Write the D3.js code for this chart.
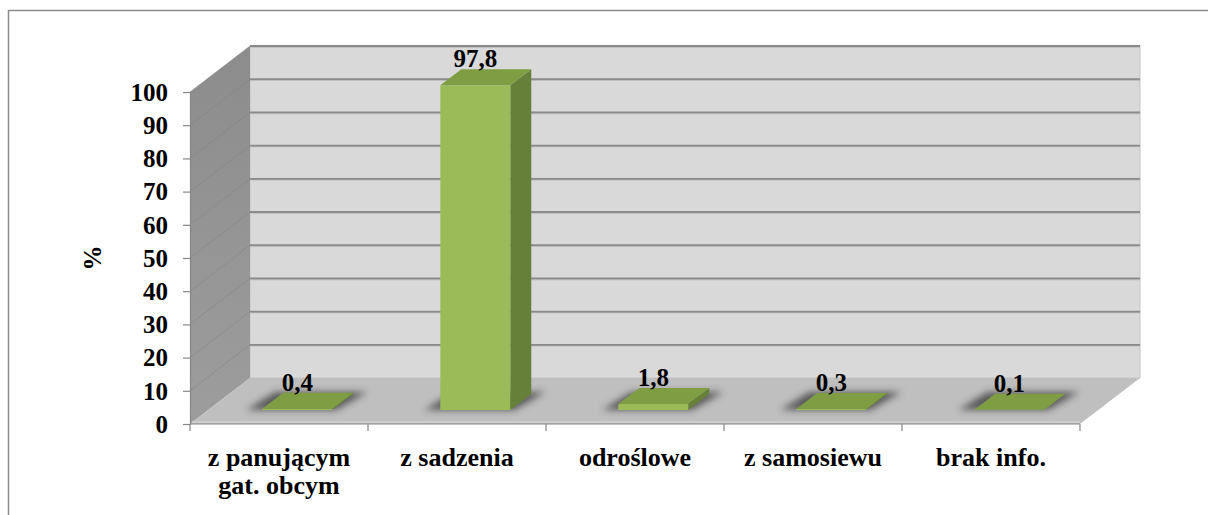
<!DOCTYPE html>
<html>
<head>
<meta charset="utf-8">
<script src="https://cdn.jsdelivr.net/npm/d3@7"></script>
<style>
  html, body { margin: 0; padding: 0; background: #fff; }
</style>
</head>
<body>
<svg id="chart" width="1208" height="515"></svg>
<script>
// Categories and percentage shares
const categories = ["z panującym\ngat. obcym", "z sadzenia", "odroślowe", "z samosiewu", "brak info."];
const values = [0.4, 97.8, 1.8, 0.3, 0.1];
const valueLabels = ["0,4", "97,8", "1,8", "0,3", "0,1"];
const yTicks = [0, 10, 20, 30, 40, 50, 60, 70, 80, 90, 100];
const yTitle = "%";

const svg = d3.select("#chart");
const FONT = "\"Liberation Serif\"";
const FS = 25, FS_CAT = 26;

// Front plane of the 3D box
const left = 190, right = 1080;
const y = d3.scaleLinear().domain([0, 100]).range([424, 92]);
const xCat = d3.scaleBand().domain(categories).range([left, right]);
const xBar = d3.scaleBand().domain(categories).range([left, right])
  .paddingInner(0.607).paddingOuter(0.3035);

// depth of the walls and of the bars
const wall = { dx: 60, dy: -46 };
const barOff = { dx: 18.3, dy: -14 };
const barDepth = { dx: 21, dy: -16 };

const defs = svg.append("defs");
defs.append("filter").attr("id", "soft").attr("x", "-50%").attr("y", "-50%").attr("width", "200%").attr("height", "200%")
  .append("feGaussianBlur").attr("stdDeviation", 3.5);
const wallGrad = defs.append("linearGradient").attr("id", "wallGrad").attr("x1", 0).attr("y1", 0).attr("x2", 0).attr("y2", 1);
wallGrad.append("stop").attr("offset", "0%").attr("stop-color", "#8c8c8c");
wallGrad.append("stop").attr("offset", "100%").attr("stop-color", "#9d9d9d");

// outer frame
svg.append("rect").attr("x", 8.5).attr("y", 10.5).attr("width", 1220).attr("height", 520)
  .attr("fill", "none").attr("stroke", "#8c8c8c").attr("stroke-width", 1.5);

const poly = pts => pts.map(p => `${p[0]},${p[1]}`).join(" ");

// back wall
svg.append("polygon")
  .attr("points", poly([[left + wall.dx, y(100) + wall.dy], [right + wall.dx, y(100) + wall.dy],
                        [right + wall.dx, y(0) + wall.dy], [left + wall.dx, y(0) + wall.dy]]))
  .attr("fill", "#d9d9d9").attr("stroke", "#c4c4c4").attr("stroke-width", 1);

// left side wall
svg.append("polygon")
  .attr("points", poly([[left, y(100)], [left + wall.dx, y(100) + wall.dy],
                        [left + wall.dx, y(0) + wall.dy], [left, y(0)]]))
  .attr("fill", "url(#wallGrad)");

// floor
svg.append("polygon")
  .attr("points", poly([[left, y(0)], [left + wall.dx, y(0) + wall.dy],
                        [right + wall.dx, y(0) + wall.dy], [right, y(0)]]))
  .attr("fill", "#bfbfbf");
svg.append("line").attr("x1", left + 2).attr("x2", right).attr("y1", y(0) - 2).attr("y2", y(0) - 2)
  .attr("stroke", "#cdcdcd").attr("stroke-width", 2);

// gridlines: back wall and faint traces on the side wall
const grid = yTicks.filter(v => v > 0);
svg.append("g").selectAll("line").data(grid).join("line")
  .attr("x1", left + wall.dx).attr("x2", right + wall.dx)
  .attr("y1", d => y(d) + wall.dy + 1).attr("y2", d => y(d) + wall.dy + 1)
  .attr("stroke", "#bdbdbd").attr("stroke-width", 1.5);
svg.append("g").selectAll("line").data(grid).join("line")
  .attr("x1", left + wall.dx).attr("x2", right + wall.dx)
  .attr("y1", d => y(d) + wall.dy).attr("y2", d => y(d) + wall.dy)
  .attr("stroke", "#8a8a8a").attr("stroke-width", 1.8);
svg.append("g").selectAll("line").data(grid).join("line")
  .attr("x1", left).attr("x2", left + wall.dx)
  .attr("y1", d => y(d)).attr("y2", d => y(d) + wall.dy)
  .attr("stroke", "#7e7e7e").attr("stroke-width", 1).attr("opacity", 0.45);

// bars
const bars = categories.map((c, i) => {
  const x0 = xBar(c) + barOff.dx, x1 = x0 + xBar.bandwidth();
  const yb = y(0) + barOff.dy, yt = y(values[i]) + barOff.dy;
  return { c, v: values[i], label: valueLabels[i], x0, x1, yb, yt };
});

const gBars = svg.append("g");
// soft contact shadows on the floor
gBars.selectAll("polygon.shadow").data(bars).join("polygon").attr("class", "shadow")
  .attr("points", d => poly([[d.x0 - 16, d.yb], [d.x0 - 8 + barDepth.dx, d.yb + barDepth.dy - 2],
                             [d.x1 + 14 + barDepth.dx, d.yb + barDepth.dy - 2], [d.x1 + 4, d.yb]]))
  .attr("fill", "#2e2e2e").attr("opacity", 0.7).attr("filter", "url(#soft)");
// side faces
gBars.selectAll("polygon.side").data(bars).join("polygon").attr("class", "side")
  .attr("points", d => poly([[d.x1, d.yt], [d.x1 + barDepth.dx, d.yt + barDepth.dy],
                             [d.x1 + barDepth.dx, d.yb + barDepth.dy], [d.x1, d.yb]]))
  .attr("fill", "#66803a");
// front faces
gBars.selectAll("rect.front").data(bars).join("rect").attr("class", "front")
  .attr("x", d => d.x0).attr("y", d => d.yt).attr("width", d => d.x1 - d.x0)
  .attr("height", d => d.yb - d.yt).attr("fill", "#9bbb59");
// top faces
gBars.selectAll("polygon.top").data(bars).join("polygon").attr("class", "top")
  .attr("points", d => poly([[d.x0, d.yt], [d.x0 + barDepth.dx, d.yt + barDepth.dy],
                             [d.x1 + barDepth.dx, d.yt + barDepth.dy], [d.x1, d.yt]]))
  .attr("fill", "#7f9e44");

// value labels
gBars.selectAll("text").data(bars).join("text")
  .attr("x", d => (d.x0 + d.x1) / 2).attr("y", d => d.yt + barDepth.dy - 2)
  .attr("text-anchor", "middle").attr("font-size", FS)
  .text(d => d.label);

// value axis along the front edge of the side wall
const yAxis = d3.axisLeft(y).tickValues(yTicks).tickSize(7).tickPadding(15).tickFormat(d3.format("d"));
const gy = svg.append("g").attr("transform", `translate(${left},0)`).call(yAxis);
gy.select(".domain").attr("stroke", "#868686").attr("stroke-width", 1.2);
gy.selectAll(".tick line").attr("stroke", "#868686").attr("stroke-width", 1.2);
gy.selectAll(".tick text").attr("font-size", FS).attr("dy", "0.33em");

// category axis along the front edge of the floor
svg.append("line").attr("x1", left).attr("x2", right).attr("y1", y(0)).attr("y2", y(0))
  .attr("stroke", "#868686").attr("stroke-width", 1.2);
const bounds = categories.map(c => xCat(c)).concat([right]);
svg.append("g").selectAll("line").data(bounds).join("line")
  .attr("x1", d => d).attr("x2", d => d).attr("y1", y(0)).attr("y2", y(0) + 7)
  .attr("stroke", "#868686").attr("stroke-width", 1.2);
const gx = svg.append("g");
categories.forEach(c => {
  const cx = xCat(c) + xCat.bandwidth() / 2;
  const t = gx.append("text").attr("text-anchor", "middle").attr("font-size", FS_CAT);
  c.split("\n").forEach((line, k) => {
    t.append("tspan").attr("x", cx).attr("y", 466 + k * 28).text(line);
  });
});

// axis title
svg.append("text").attr("text-anchor", "middle").attr("font-size", FS)
  .attr("transform", "translate(101,258) rotate(-90)")
  .text(yTitle);

// bold serif for every label
svg.selectAll("text").attr("font-family", FONT).attr("font-weight", "bold").attr("fill", "#000");
</script>
</body>
</html>
